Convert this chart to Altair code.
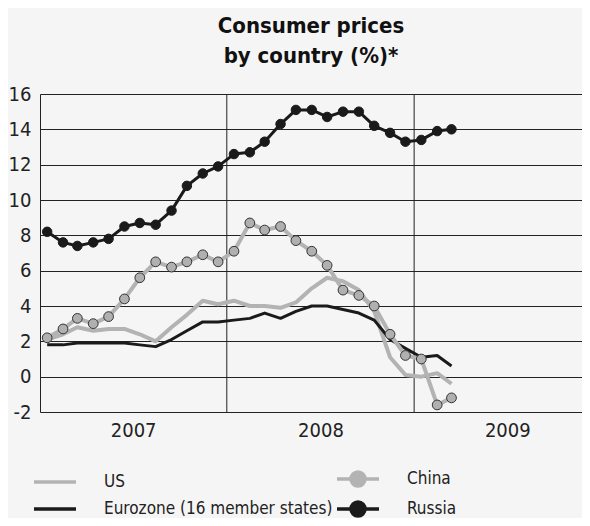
import altair as alt
import pandas as pd

FONT = "DejaVu Sans Condensed, DejaVu Sans, sans-serif"

# Monthly observations Jan 2007 .. Mar 2009
months = [f"{y}-{m:02d}-15" for y in (2007, 2008, 2009) for m in range(1, 13)][:27]

us = [2.1, 2.4, 2.8, 2.6, 2.7, 2.7, 2.4, 2.0, 2.8, 3.5, 4.3, 4.1,
      4.3, 4.0, 4.0, 3.9, 4.2, 5.0, 5.6, 5.4, 4.9, 3.7, 1.1, 0.1,
      0.0, 0.2, -0.4]
eurozone = [1.8, 1.8, 1.9, 1.9, 1.9, 1.9, 1.8, 1.7, 2.1, 2.6, 3.1, 3.1,
            3.2, 3.3, 3.6, 3.3, 3.7, 4.0, 4.0, 3.8, 3.6, 3.2, 2.1, 1.6,
            1.1, 1.2, 0.6]
china = [2.2, 2.7, 3.3, 3.0, 3.4, 4.4, 5.6, 6.5, 6.2, 6.5, 6.9, 6.5,
         7.1, 8.7, 8.3, 8.5, 7.7, 7.1, 6.3, 4.9, 4.6, 4.0, 2.4, 1.2,
         1.0, -1.6, -1.2]
russia = [8.2, 7.6, 7.4, 7.6, 7.8, 8.5, 8.7, 8.6, 9.4, 10.8, 11.5, 11.9,
          12.6, 12.7, 13.3, 14.3, 15.1, 15.1, 14.7, 15.0, 15.0, 14.2, 13.8, 13.3,
          13.4, 13.9, 14.0]

EZ = "Eurozone (16 member states)"
legend_order = ["US", EZ, "China", "Russia"]   # column-major fill -> US/China on row 1
series_values = {"US": us, "China": china, EZ: eurozone, "Russia": russia}
year_lines = ["2008-01-01", "2009-01-01"]
y_ticks = [-2, 0, 2, 4, 6, 8, 10, 12, 14, 16]

GRAY = "#b3b3b3"
BLACK = "#1a1a1a"
line_color = {"US": GRAY, "China": GRAY, EZ: BLACK, "Russia": BLACK}
line_width = {"US": 4, "China": 4, EZ: 3, "Russia": 3}

rows = []
for name in legend_order:
    for d, v in zip(months, series_values[name]):
        rows.append({"date": d, "value": v, "series": name})
df = pd.DataFrame(rows)
rules_df = pd.DataFrame({"date": year_lines})

x_scale = alt.Scale(type="utc",
                    domain=[alt.DateTime(year=2007, month=1, date=1, utc=True),
                            alt.DateTime(year=2009, month=11, date=25, utc=True)])
y_scale = alt.Scale(domain=[-2, 16], nice=False, zero=False)

x_axis = alt.Axis(values=[alt.DateTime(year=yr, month=7, date=2, utc=True) for yr in (2007, 2008, 2009)],
                  format="%Y", grid=False, ticks=False, domain=False, title=None,
                  labelFont=FONT, labelFontSize=20, labelColor="#222", labelPadding=8)
y_axis = alt.Axis(values=y_ticks, grid=True, gridColor="#222", gridOpacity=1, gridWidth=1,
                  domain=True, domainColor="#222", domainWidth=1, ticks=False, title=None,
                  labelOverlap=False, labelFont=FONT, labelFontSize=20, labelColor="#222",
                  labelPadding=9,
                  labelExpr="datum.value < 0 ? '-' + abs(datum.value) : datum.label")

x_enc = alt.X("date:T", scale=x_scale, axis=x_axis)
y_enc = alt.Y("value:Q", scale=y_scale, axis=y_axis)

line_path = "M-3,0L3,0"
dot_path = "M-3,0L-1,0M1,0L3,0M-1,0A1,1,0,1,0,1,0A1,1,0,1,0,-1,0"

legend = alt.Legend(
    title=None, orient="none", legendX=6, legendY=376, columns=2, gridAlign="all",
    symbolSize=196, symbolStrokeWidth=3.5, symbolOpacity=1,
    labelOffset=40, columnPadding=-3, rowPadding=2, padding=0,
    labelFont=FONT, labelFontSize=17, labelColor="#222", labelLimit=400,
)

base = alt.Chart(df)

rules = alt.Chart(rules_df).mark_rule(color="#222", strokeWidth=1).encode(
    x=alt.X("date:T", scale=x_scale, axis=x_axis),
    y=alt.YDatum(16, scale=y_scale, axis=y_axis),
    y2=alt.Y2Datum(-2))

layers = [rules]
for name in ["US", EZ, "China", "Russia"]:
    layers.append(base.transform_filter(alt.datum.series == name)
                  .mark_line(color=line_color[name], strokeWidth=line_width[name], strokeJoin="round")
                  .encode(x=x_enc, y=y_enc))
    if name == "China":
        layers.append(base.transform_filter(alt.datum.series == name)
                      .mark_point(filled=True, fill="#b0b0b0", stroke="#333", strokeWidth=1,
                                  size=95, opacity=1, shape="circle")
                      .encode(x=x_enc, y=y_enc))
    if name == "Russia":
        layers.append(base.transform_filter(alt.datum.series == name)
                      .mark_point(filled=True, fill=BLACK, stroke=BLACK, strokeWidth=1,
                                  size=90, opacity=1, shape="circle")
                      .encode(x=x_enc, y=y_enc))

# legend-only layer (draws no marks; provides the merged legend)
legend_layer = base.transform_filter("false").mark_point(opacity=1, strokeWidth=3.5).encode(
    x=x_enc, y=y_enc,
    stroke=alt.Stroke("series:N", scale=alt.Scale(domain=legend_order,
                                                   range=[GRAY, BLACK, GRAY, BLACK]), legend=legend),
    fill=alt.Fill("series:N", scale=alt.Scale(domain=legend_order,
                                               range=["transparent", "transparent", GRAY, BLACK]), legend=legend),
    shape=alt.Shape("series:N", scale=alt.Scale(domain=legend_order,
                                                 range=[line_path, line_path, dot_path, dot_path]), legend=legend),
)
layers.append(legend_layer)

chart = alt.layer(*layers).properties(
    width=542, height=318,
    autosize=alt.AutoSizeParams(type="none"),
    padding={"left": 32, "top": 86, "right": 0, "bottom": 106},
    title=alt.TitleParams(text=["Consumer prices", "by country (%)*"], anchor="middle",
                          font=FONT, fontSize=22, fontWeight="bold", color="#111",
                          lineHeight=30, baseline="bottom", offset=4, dy=10),
).configure(background="#f5f5f5").configure_view(stroke=None)

chart.save("out.html", embed_options={"renderer": "svg", "actions": False})
